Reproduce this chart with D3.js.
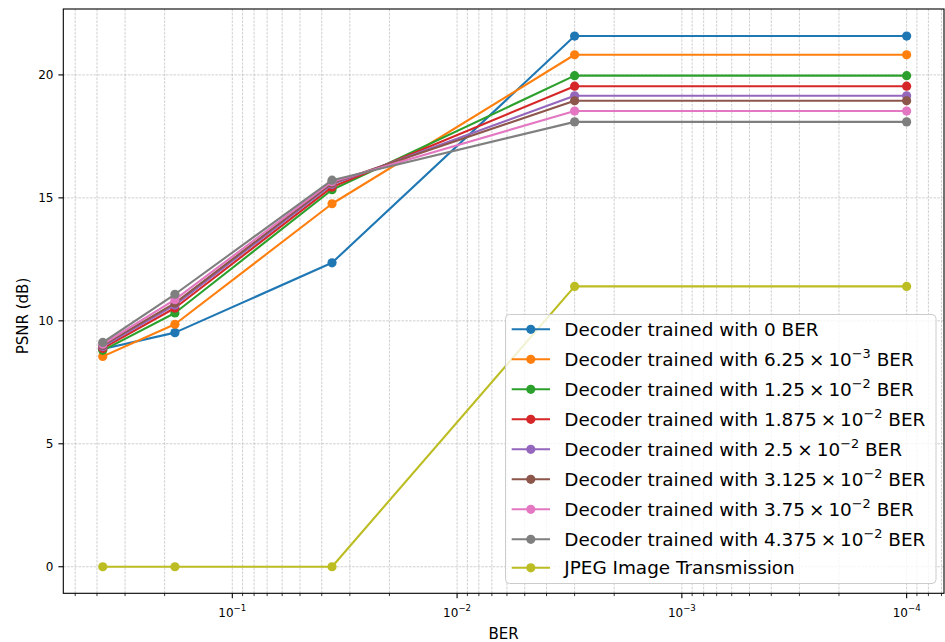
<!DOCTYPE html>
<html>
<head>
<meta charset="utf-8">
<script src="https://cdn.jsdelivr.net/npm/d3@7"></script>
<style>
  body { margin: 0; background: #fff; }
  svg { display: block; }
  text { font-family: "DejaVu Sans", "Liberation Sans", sans-serif; fill: #000; white-space: pre; }
</style>
</head>
<body>
<svg id="chart" width="945" height="642"></svg>
<script>
// Bit error rates at which each decoder was evaluated
const berPoints = [0.377, 0.18, 0.036, 0.003, 0.0001];

// PSNR (dB) per decoder, one value per BER point
const psnrBer0      = [8.85, 9.52, 12.36, 21.58, 21.58];
const psnrBer625e3  = [8.55, 9.86, 14.76, 20.82, 20.82];
const psnrBer125e2  = [8.80, 10.32, 15.33, 19.97, 19.97];
const psnrBer1875e2 = [8.88, 10.52, 15.44, 19.54, 19.54];
const psnrBer25e2   = [8.95, 10.64, 15.55, 19.15, 19.15];
const psnrBer3125e2 = [9.00, 10.72, 15.60, 18.95, 18.95];
const psnrBer375e2  = [9.05, 10.86, 15.66, 18.53, 18.53];
const psnrBer4375e2 = [9.12, 11.08, 15.72, 18.09, 18.09];
const psnrJpeg      = [0, 0, 0, 11.40, 11.40];

// Legend label parts: training BER mantissa and power-of-ten exponent
const trainMantissas = ["0", "6.25", "1.25", "1.875", "2.5", "3.125", "3.75", "4.375"];
const trainExponents = [null, "\u22123", "\u22122", "\u22122", "\u22122", "\u22122", "\u22122", "\u22122"];
const jpegLabel = "JPEG Image Transmission";

// Axis ticks
const yTicks = [0, 5, 10, 15, 20];
const xMajorTicks = [1e-1, 1e-2, 1e-3, 1e-4];
const xMajorExponents = ["\u22121", "\u22122", "\u22123", "\u22124"];

const colors = ["#1f77b4", "#ff7f0e", "#2ca02c", "#d62728", "#9467bd",
                "#8c564b", "#e377c2", "#7f7f7f", "#bcbd22"];

const decoderSeries = [psnrBer0, psnrBer625e3, psnrBer125e2, psnrBer1875e2,
                       psnrBer25e2, psnrBer3125e2, psnrBer375e2, psnrBer4375e2];
const allSeries = decoderSeries.concat([psnrJpeg]);

const svg = d3.select("#chart");
const plot = { left: 63.3, right: 944, top: 9, bottom: 593.3 };

// Reversed log axis: high BER on the left
const x = d3.scaleLog().domain([0.5648, 6.82e-5]).range([plot.left, plot.right]);
const y = d3.scaleLinear().domain([-1.08, 22.68]).range([plot.bottom, plot.top]);

// Minor ticks 2..9 x 10^k inside the domain
const xMinorTicks = [];
for (let k = -5; k <= 0; k++) {
  for (let m = 2; m <= 9; m++) {
    const v = m * Math.pow(10, k);
    if (v <= 0.5648 && v >= 6.82e-5) xMinorTicks.push(v);
  }
}

const grid = svg.append("g").attr("class", "grid");
const gridStyle = sel => sel.attr("stroke", "#b0b0b0").attr("stroke-width", 0.6)
  .attr("stroke-dasharray", "2.6,1.2");

grid.selectAll("line.vmaj").data(xMajorTicks.concat(xMinorTicks)).join("line")
  .attr("x1", d => x(d)).attr("x2", d => x(d))
  .attr("y1", plot.top).attr("y2", plot.bottom).call(gridStyle);
grid.selectAll("line.h").data(yTicks).join("line")
  .attr("x1", plot.left).attr("x2", plot.right)
  .attr("y1", d => y(d)).attr("y2", d => y(d)).call(gridStyle);

// Series: line with circular markers, drawn in order
const line = d3.line().x((d, i) => x(berPoints[i])).y(d => y(d));
const seriesG = svg.append("g");
allSeries.forEach((vals, s) => {
  const g = seriesG.append("g");
  g.append("path").attr("d", line(vals)).attr("fill", "none")
    .attr("stroke", colors[s]).attr("stroke-width", 2.1)
    .attr("stroke-linejoin", "round").attr("stroke-linecap", "square");
  g.selectAll("circle").data(vals).join("circle")
    .attr("cx", (d, i) => x(berPoints[i])).attr("cy", d => y(d))
    .attr("r", 4.6).attr("fill", colors[s]);
});

// Spines
const spines = svg.append("g").attr("stroke", "#000").attr("stroke-width", 1.1).attr("fill", "none");
spines.append("rect").attr("x", plot.left).attr("y", plot.top)
  .attr("width", plot.right - plot.left).attr("height", plot.bottom - plot.top);

// X axis ticks and labels
const xAxis = svg.append("g");
xAxis.selectAll("line.maj").data(xMajorTicks).join("line")
  .attr("x1", d => x(d)).attr("x2", d => x(d))
  .attr("y1", plot.bottom).attr("y2", plot.bottom + 4.9)
  .attr("stroke", "#000").attr("stroke-width", 1.1);
xAxis.selectAll("line.min").data(xMinorTicks).join("line")
  .attr("x1", d => x(d)).attr("x2", d => x(d))
  .attr("y1", plot.bottom).attr("y2", plot.bottom + 2.8)
  .attr("stroke", "#000").attr("stroke-width", 0.8);
xMajorTicks.forEach((v, i) => {
  const t = xAxis.append("text").attr("x", x(v)).attr("y", 616.5)
    .attr("text-anchor", "middle").attr("font-size", 12);
  t.append("tspan").text("10");
  t.append("tspan").attr("dy", -5.2).attr("font-size", 8.6).text(xMajorExponents[i]);
});
svg.append("text").attr("x", (plot.left + plot.right) / 2).attr("y", 638.5)
  .attr("text-anchor", "middle").attr("font-size", 15).text("BER");

// Y axis ticks and labels
const yAxis = svg.append("g");
yAxis.selectAll("line").data(yTicks).join("line")
  .attr("x1", plot.left - 4.9).attr("x2", plot.left)
  .attr("y1", d => y(d)).attr("y2", d => y(d))
  .attr("stroke", "#000").attr("stroke-width", 1.1);
yAxis.selectAll("text").data(yTicks).join("text")
  .attr("x", plot.left - 9.8).attr("y", d => y(d) + 4.3)
  .attr("text-anchor", "end").attr("font-size", 12).text(d => d);
svg.append("text").attr("transform", "translate(27.5,316) rotate(-90)")
  .attr("text-anchor", "middle").attr("font-size", 15).text("PSNR (dB)");

// Legend
const legend = svg.append("g");
legend.append("rect").attr("x", 505.5).attr("y", 314.5).attr("width", 430.5).attr("height", 269)
  .attr("rx", 4).attr("fill", "#fff").attr("fill-opacity", 0.8)
  .attr("stroke", "#cccccc").attr("stroke-width", 1);
const rowY = [329.3, 359.3, 389.3, 419.3, 449.3, 479.3, 509.3, 539.3, 567.8];
const fs = 18.4;
allSeries.forEach((vals, s) => {
  const ry = rowY[s];
  legend.append("line").attr("x1", 511.7).attr("x2", 550).attr("y1", ry).attr("y2", ry)
    .attr("stroke", colors[s]).attr("stroke-width", 2.1);
  legend.append("circle").attr("cx", 530.8).attr("cy", ry).attr("r", 4.6).attr("fill", colors[s]);
  const t = legend.append("text").attr("x", 564.3).attr("y", ry + 6.6).attr("font-size", fs);
  if (s === allSeries.length - 1) {
    t.text(jpegLabel);
  } else if (trainExponents[s] === null) {
    t.text("Decoder trained with " + trainMantissas[s] + " BER");
  } else {
    t.append("tspan").text("Decoder trained with " + trainMantissas[s]);
    t.append("tspan").attr("dx", 4).text("\u00d7");
    t.append("tspan").attr("dx", 4).text("10");
    t.append("tspan").attr("dy", -8).attr("font-size", fs * 0.7).text(trainExponents[s]);
    t.append("tspan").attr("dy", 8).attr("font-size", fs).text(" BER");
  }
});
</script>
</body>
</html>
